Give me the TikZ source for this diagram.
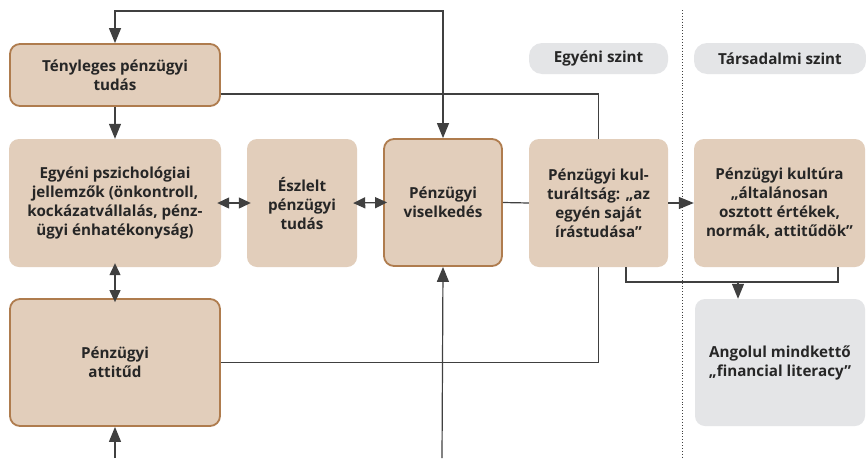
\documentclass[tikz,border=0pt]{standalone}
\usepackage{fontspec}
\setmainfont{Open Sans}
\usetikzlibrary{arrows.meta}
\definecolor{beige}{HTML}{E2CEBB}
\definecolor{brownb}{HTML}{AF7C4E}
\definecolor{pillc}{HTML}{E4E5E7}
\definecolor{ln}{HTML}{404040}
\definecolor{txt}{HTML}{262626}
\begin{document}
\begin{tikzpicture}[x=1pt,y=-1pt,
 box/.style={rectangle, rounded corners=10pt, fill=beige, draw=none, inner sep=0pt, align=center, font=\fontsize{15.2}{19}\selectfont\bfseries, text=txt},
 bbox/.style={box, draw=brownb, line width=1.8pt},
 gbox/.style={box, fill=pillc},
 pillbox/.style={box, fill=pillc, rounded corners=13pt},
 conn/.style={draw=ln, line width=1.2pt},
 tip/.style={-{Triangle[width=12pt,length=15pt]}},
 dtip/.style={{Triangle[width=11pt,length=12pt]}-{Triangle[width=11pt,length=12pt]}},
 over/.style={shorten <=-4pt, shorten >=-4pt}]
\fill[white] (0,0) rectangle (866,458);
\useasboundingbox (0,0) rectangle (866,458);
% dotted separator
\draw[ln, dotted, line width=0.9pt] (682,10) -- (682,458);
% pills
\node[pillbox, minimum width=139pt, minimum height=31pt] (P1) at (598.5,58.5) {Egyéni szint};
\node[pillbox, minimum width=172pt, minimum height=31pt] (P2) at (780,58.5) {Társadalmi szint};
% boxes
\node[bbox, minimum width=210pt, minimum height=62pt] (T) at (115,75) {Tényleges pénzügyi\\tudás};
\node[box, minimum width=212pt, minimum height=128pt] (E) at (115,203) {Egyéni pszichológiai\\jellemzők (önkontroll,\\kockázatvállalás, pénz-\\ügyi énhatékonyság)};
\node[box, minimum width=110pt, minimum height=128pt] (S) at (302,203) {Észlelt\\pénzügyi\\tudás};
\node[bbox, minimum width=118pt, minimum height=127pt] (V) at (443,202.5) {Pénzügyi\\viselkedés};
\node[box, minimum width=139pt, minimum height=128pt] (K) at (598.5,203) {Pénzügyi kul-\\turáltság: „az\\egyén saját\\írástudása”};
\node[box, minimum width=171pt, minimum height=128pt] (C) at (779.5,203) {Pénzügyi kultúra\\„általánosan\\osztott értékek,\\normák, attitűdök”};
\node[bbox, minimum width=210pt, minimum height=127pt] (A) at (115,362.5) {Pénzügyi\\attitűd};
\node[gbox, minimum width=170pt, minimum height=127pt] (L) at (780,362.5) {Angolul mindkettő\\„financial literacy”};
% free ends
\coordinate (top) at (0,11);
\coordinate (botA) at (115,458);
\coordinate (botV) at (442,458);
\coordinate (brL) at (626,282);
\coordinate (brR) at (838,282);
\coordinate (brM) at (738,282);
% connectors
\draw[conn, {Triangle[width=12pt,length=15pt]}-{Triangle[width=12pt,length=15pt]}] (T.north) -- (T.north |- top) -| (V.north);
\draw[conn, tip] (T.south) -- (E.north);
\draw[conn, dtip, over] (E.east) -- (S.west);
\draw[conn, dtip, over] (S.east) -- (V.west);
\draw[conn] (V.east) -- (K.west);
\draw[conn, tip] (K.east) -- (C.west);
\draw[conn] ([yshift=-19pt]T.east) -| (K.north);
\draw[conn, dtip, over] (E.south) -- (A.north);
\draw[conn, tip] (botA) -- (A.south);
\draw[conn] (A.east) -| (K.south);
\draw[conn, tip] (botV) -- (V.south);
\draw[conn] (K.south -| brL) -- (brL) -- (brR) -- (C.south -| brR);
\draw[conn, tip] (brM) -- (L.north -| brM);
\end{tikzpicture}
\end{document}
